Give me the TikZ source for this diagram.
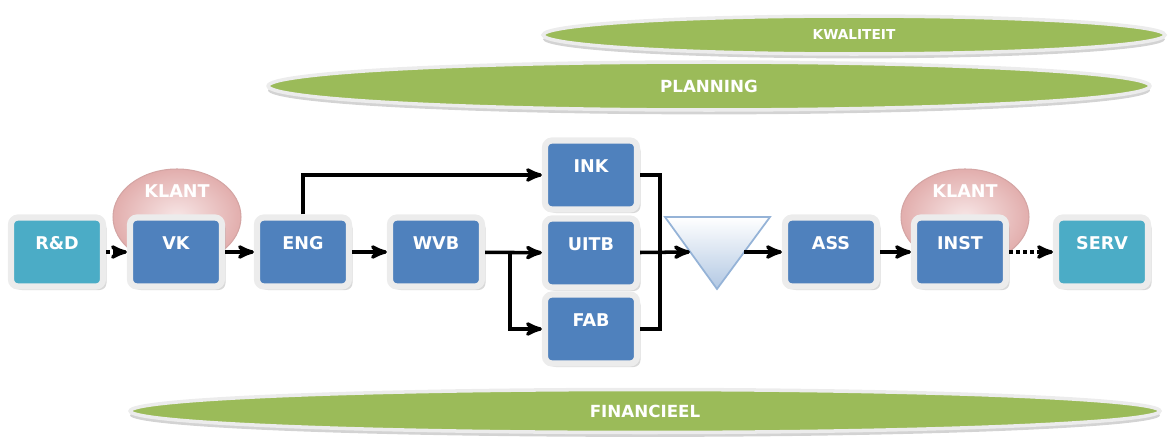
\documentclass[tikz,border=0pt]{standalone}
\usepackage{fontspec}
\setsansfont{DejaVu Sans}
\usetikzlibrary{arrows, shapes, positioning, calc, shadows}
\definecolor{boxblue}{HTML}{4F81BD}
\definecolor{boxteal}{HTML}{4BACC6}
\definecolor{bandgreen}{HTML}{9BBB59}
\definecolor{klantedge}{HTML}{E2AEAD}
\definecolor{klantmid}{HTML}{F7E6E6}
\definecolor{klantline}{HTML}{D4A5A4}
\definecolor{tribot}{HTML}{B2C8E3}
\definecolor{triline}{HTML}{95B3D7}
\definecolor{rimgray}{HTML}{ECECEC}
\tikzset{
   mybox/.style={draw=rimgray, line width=3.5pt, rounded corners=4pt, fill=boxblue, text=white,
      font=\sffamily\bfseries\fontsize{10}{12}\selectfont, minimum width=1.84cm, minimum height=1.38cm,
      inner sep=0pt, text height=.63cm, text depth=.75cm,
      drop shadow={shadow xshift=2pt, shadow yshift=-2pt, opacity=.3}},
   myend/.style={mybox, fill=boxteal},
   myband/.style={ellipse, draw=rimgray, line width=2pt, fill=bandgreen, text=white, inner sep=0pt,
      font=\sffamily\bfseries\fontsize{9.5}{11}\selectfont,
      drop shadow={shadow xshift=0pt, shadow yshift=-2.5pt, opacity=.35}},
   myklant/.style={ellipse, draw=klantline, line width=.6pt, inner color=klantmid, outer color=klantedge,
      minimum width=2.56cm, minimum height=1.92cm, inner sep=0pt, text=white,
      font=\sffamily\bfseries\fontsize{10}{12}\selectfont, text height=.25cm, text depth=1.05cm},
   myflow/.style={->, >=stealth', line width=2pt},
   mydots/.style={myflow, dotted}
}
\begin{document}
\begin{tikzpicture}[x=0.02cm, y=-0.02cm]
  \useasboundingbox (0,0) rectangle (1173,439);

  % bands
  \node[myband, minimum width=12.44cm, minimum height=.76cm, font=\sffamily\bfseries\fontsize{7.8}{9}\selectfont] (kwal) at (854,35) {KWALITEIT};
  \node[myband, minimum width=17.64cm, minimum height=.96cm] (plan) at (709,86) {PLANNING};
  \node[myband, minimum width=20.6cm, minimum height=.86cm] (fin) at (645,411) {FINANCIEEL};

  % klant
  \node[myklant] (klantA) at (177,217) {KLANT};
  \node[myklant] (klantB) at (965,217) {KLANT};

  % boxes
  \node[myend] (rd) at (57,252) {R\&D};
  \node[mybox] (vk) at (176,252) {VK};
  \node[mybox] (eng) at (303,252) {ENG};
  \node[mybox] (wvb) at (436,252) {WVB};
  \node[mybox] (ink) at (591,175) {INK};
  \node[mybox] (uitb) at (591,253) {UITB};
  \node[mybox] (fab) at (591,329) {FAB};
  \node[mybox] (ass) at (831,252) {ASS};
  \node[mybox] (inst) at (960,252) {INST};
  \node[myend] (serv) at (1102,252) {SERV};

  % triangle
  \coordinate (tri-a) at (665,217);
  \coordinate (tri-b) at (770,217);
  \coordinate (tri-c) at (717,289);
  \coordinate (tri-l) at (690,252);
  \coordinate (tri-r) at (744,252);
  \draw[triline, line width=1pt, top color=white, bottom color=tribot] (tri-a) -- (tri-b) -- (tri-c) -- cycle;

  % flow
  \coordinate (split) at (510,252);
  \coordinate (merge) at (660,252);
  \draw[mydots] (rd) -- (vk);
  \draw[myflow] (vk) -- (eng);
  \draw[myflow] (eng) -- (wvb);
  \draw[myflow] (eng.north) |- (ink.west);
  \draw[myflow] (wvb) -- (uitb);
  \draw[myflow] (split) |- (fab.west);
  \draw[line width=2pt] (ink.east) -| (merge);
  \draw[line width=2pt] (fab.east) -| (merge);
  \draw[myflow] (uitb) -- (tri-l);
  \draw[myflow] (tri-r) -- (ass);
  \draw[myflow] (ass) -- (inst);
  \draw[mydots] (inst) -- (serv);
\end{tikzpicture}
\end{document}
